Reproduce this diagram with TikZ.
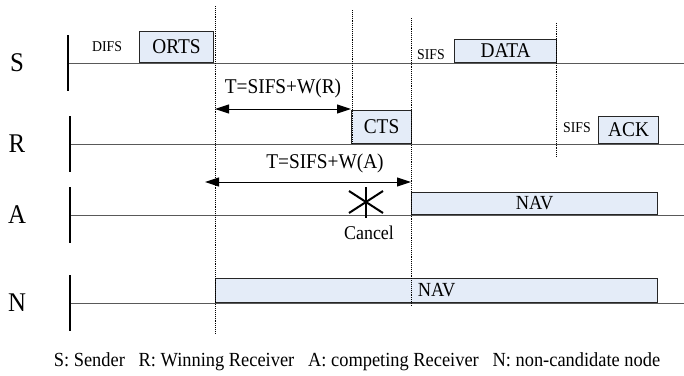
\documentclass[tikz,border=0pt]{standalone}
\usepackage{fontspec}
\setmainfont{Liberation Serif}[FakeStretch=0.92]
\usepackage{xcolor}
\usepackage{tikz}
\usetikzlibrary{positioning}
\usetikzlibrary{arrows.meta}
\definecolor{navblue}{RGB}{228,236,248}
\tikzstyle{frame}=[rectangle,draw=black!85,line width=1.1pt,fill=navblue,inner sep=0pt,anchor=south west]
\tikzstyle{timeline}=[draw=black!65,line width=1pt]
\tikzstyle{tick}=[draw,line width=1.4pt]
\tikzstyle{guide}=[draw,densely dotted,line width=0.9pt]
\tikzstyle{span}=[draw,line width=1pt,{Triangle[length=14pt,width=9pt]}-{Triangle[length=14pt,width=9pt]}]
\tikzstyle{station}=[font=\fontsize{27}{27}\selectfont]
\tikzstyle{gap}=[font=\fontsize{15}{15}\selectfont]
\tikzstyle{weight}=[font=\fontsize{21}{21}\selectfont]

\begin{document}
\begin{tikzpicture}[x=1pt,y=-1pt]
 \useasboundingbox (0,0) rectangle (684,375);

 %stations
  \foreach \y/\name/\label/\tx in {63/S/S/68, 144/R/R/70, 215/A/A/70, 303/N/N/70}
  {
   \node[station] (\name) at (17,\y) {\label};
   \coordinate (\name0) at (\tx,\y);
   \coordinate (\name1) at (684,\y);
   \coordinate (\name up) at (\tx,\y-28);
   \coordinate (\name dn) at (\tx,\y+28);
   \path[timeline] (\name0) -- (\name1);
   \path[tick] (\name up) -- (\name dn);
  }

 %frames
  \foreach \x/\y/\w/\h/\name/\label/\fs in {139/63/74/31/orts/ORTS/21, 454/63/102/23/data/DATA/21, 351/144/60/33/cts/CTS/21, 598/144/60/27/ack/ACK/21, 411/215/246/22/navA/NAV/20, 215/303/442/24/navN/NAV/20}
          \node[frame, minimum width=\w pt, minimum height=\h pt, font=\fontsize{\fs}{\fs}\selectfont] (\name) at (\x,\y) {\label};

 %guides
  \foreach \x/\top/\bot/\name in {215/6/333/g1, 352/10/144/g2, 411/18/305/g3, 556/23/157/g4}
  {
   \coordinate (\name top) at (\x,\top);
   \coordinate (\name bot) at (\x,\bot);
   \path[guide] (\name top) -- (\name bot);
  }

 %gaps
  \foreach \x/\y/\name/\label in {107/47/difs/DIFS, 431/55/sifsS/SIFS, 577/128/sifsR/SIFS}
          \node[gap] (\name) at (\x,\y) {\label};

 %timers
  \coordinate (wr0) at (215,109);
  \coordinate (wr1) at (351,109);
  \path[span] (wr0) -- (wr1);
  \node[weight] (tR) at (283,88) {T=SIFS+W(R)};

  \coordinate (wa0) at (205,182);
  \coordinate (wa1) at (411,182);
  \path[span] (wa0) -- (wa1);
  \node[weight] (tA) at (325,163) {T=SIFS+W(A)};

 %cancel
  \coordinate (cancel) at (366,202);
  \draw[line width=2.4pt] ([shift={(0,-15)}]cancel) -- ([shift={(0,16)}]cancel);
  \draw[line width=2pt] ([shift={(-17,-11)}]cancel) -- ([shift={(17,11)}]cancel);
  \draw[line width=2pt] ([shift={(-17,11)}]cancel) -- ([shift={(17,-11)}]cancel);
  \node[font=\fontsize{19.5}{19.5}\selectfont] (cnl) at (369,233) {Cancel};

 %key
  \node[font=\fontsize{20}{20}\selectfont] (key) at (357,362) {S: Sender\ \ \ R: Winning Receiver\ \ \ A: competing Receiver\ \ \ N: non-candidate node};

\end{tikzpicture}
\end{document}
